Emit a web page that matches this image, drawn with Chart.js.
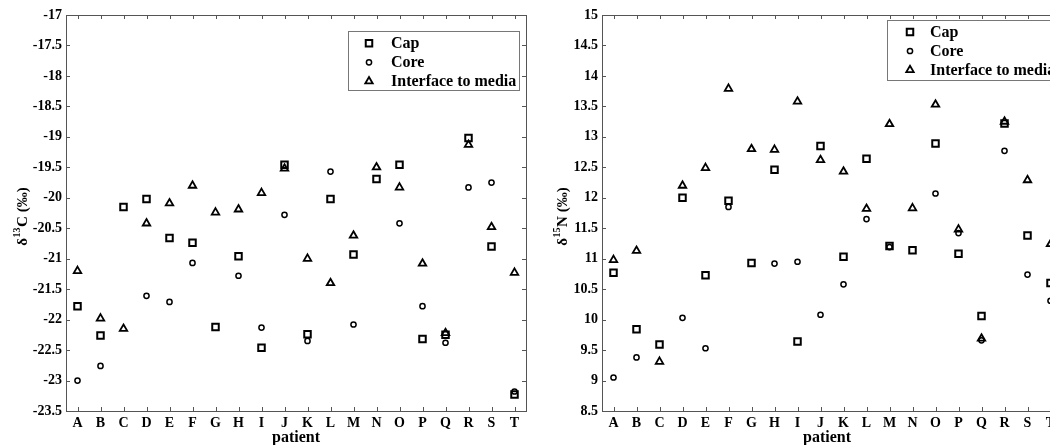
<!DOCTYPE html>
<html><head><meta charset="utf-8">
<script src="https://cdn.jsdelivr.net/npm/chart.js@4"></script>
<style>
html,body{margin:0;padding:0;background:#fff;overflow:hidden;width:1050px;height:445px;}
#w{position:relative;width:1050px;height:445px;overflow:hidden;background:#fff;}
.c{position:absolute;top:0;}
</style></head><body>
<div id="w">
<div class="c" style="left:0;width:540px;height:445px"><canvas id="c1" width="540" height="445"></canvas></div>
<div class="c" style="left:540px;width:540px;height:445px"><canvas id="c2" width="540" height="445"></canvas></div>
</div>
<script>
const patients = ['A','B','C','D','E','F','G','H','I','J','K','L','M','N','O','P','Q','R','S','T'];

// delta 13C (left panel)
const capC   = [-21.78,-22.26,-20.15,-20.02,-20.66,-20.74,-22.12,-20.96,-22.46,-19.46,-22.24,-20.02,-20.93,-19.69,-19.46,-22.32,-22.25,-19.02,-20.80,-23.23];
const coreC  = [-23.00,-22.76,null,-21.61,-21.71,-21.07,null,-21.28,-22.13,-20.28,-22.35,-19.57,-22.08,null,-20.42,-21.78,-22.38,-19.83,-19.75,-23.18];
const ifaceC = [-21.20,-21.98,-22.15,-20.42,-20.09,-19.80,-20.24,-20.19,-19.92,-19.52,-21.00,-21.40,-20.62,-19.50,-19.83,-21.08,-22.22,-19.13,-20.48,-21.23];

// delta 15N (right panel)
const capN   = [10.77,9.84,9.59,12.00,10.73,11.95,10.93,12.46,9.64,12.85,11.03,12.64,11.21,11.14,12.89,11.08,10.06,13.22,11.38,10.60];
const coreN  = [9.05,9.38,null,10.03,9.53,11.85,null,10.92,10.95,10.08,10.58,11.65,11.19,null,12.07,11.42,9.66,12.77,10.74,10.31];
const ifaceN = [10.98,11.13,9.31,12.20,12.49,13.79,12.80,12.79,13.58,12.62,12.43,11.82,13.21,11.83,13.53,11.48,9.69,13.25,12.29,11.24];

const ticksC = [-23.5,-23,-22.5,-22,-21.5,-21,-20.5,-20,-19.5,-19,-18.5,-18,-17.5,-17];
const ticksN = [8.5,9,9.5,10,10.5,11,11.5,12,12.5,13,13.5,14,14.5,15];

const seriesNames = ['Cap','Core','Interface to media'];
const xTitle = 'patient';

const FF = '"Liberation Serif","Times New Roman",serif';
const STYLES = [
  {pointStyle:'rect', radius:4.6, borderWidth:2},
  {pointStyle:'circle', radius:2.6, borderWidth:1.5},
  {pointStyle:'triangle', radius:4.3, borderWidth:1.8}
];

function marker(ctx, st, x, y){
  ctx.save();
  ctx.strokeStyle = '#000';
  ctx.lineWidth = st.borderWidth;
  ctx.beginPath();
  const r = st.radius;
  if (st.pointStyle === 'rect'){
    const s = Math.SQRT1_2 * r;
    ctx.rect(x - s, y - s, 2*s, 2*s);
  } else if (st.pointStyle === 'circle'){
    ctx.arc(x, y, r, 0, Math.PI*2);
  } else {
    const a = -Math.PI/2;
    ctx.moveTo(x + Math.cos(a)*r, y + Math.sin(a)*r);
    ctx.lineTo(x + Math.cos(a+2*Math.PI/3)*r, y + Math.sin(a+2*Math.PI/3)*r);
    ctx.lineTo(x + Math.cos(a+4*Math.PI/3)*r, y + Math.sin(a+4*Math.PI/3)*r);
    ctx.closePath();
  }
  ctx.stroke();
  ctx.restore();
}

const decor = {
  id: 'decor',
  beforeDatasetsDraw(chart, args, o){
    const ctx = chart.ctx, a = chart.chartArea;
    const xs = chart.scales.x, ys = chart.scales.y;
    ctx.save();
    ctx.strokeStyle = '#555';
    ctx.lineWidth = 1;
    ctx.strokeRect(Math.round(a.left)+0.5, Math.round(a.top)+0.5, Math.round(a.right-a.left), Math.round(a.bottom-a.top));
    ctx.beginPath();
    const tl = 4;
    xs.ticks.forEach((t,i) => {
      const px = Math.round(xs.getPixelForTick(i)) + 0.5;
      ctx.moveTo(px, a.bottom); ctx.lineTo(px, a.bottom - tl);
      ctx.moveTo(px, a.top); ctx.lineTo(px, a.top + tl);
    });
    ys.ticks.forEach(t => {
      const py = Math.round(ys.getPixelForValue(t.value)) + 0.5;
      ctx.moveTo(a.left, py); ctx.lineTo(a.left + tl, py);
      ctx.moveTo(a.right, py); ctx.lineTo(a.right - tl, py);
    });
    ctx.stroke();
    ctx.restore();
  },
  afterDraw(chart, args, o){
    const ctx = chart.ctx, a = chart.chartArea;
    // y title with superscript
    ctx.save();
    ctx.fillStyle = '#000';
    const big = 'bold 15px ' + FF, small = 'bold 10px ' + FF;
    ctx.font = big; const w1 = ctx.measureText(o.yt[0]).width;
    ctx.font = small; const w2 = ctx.measureText(o.yt[1]).width;
    ctx.font = big; const w3 = ctx.measureText(o.yt[2]).width;
    const tot = w1 + w2 + w3;
    ctx.translate(o.ytX, o.ytY + tot/2);
    ctx.rotate(-Math.PI/2);
    ctx.textAlign = 'left'; ctx.textBaseline = 'alphabetic';
    ctx.font = big; ctx.fillText(o.yt[0], 0, 0);
    ctx.font = small; ctx.fillText(o.yt[1], w1 + 0.5, -7);
    ctx.font = big; ctx.fillText(o.yt[2], w1 + w2 + 1, 0);
    ctx.restore();
    // x title
    ctx.save();
    ctx.fillStyle = '#000';
    ctx.font = 'bold 16px ' + FF;
    ctx.textAlign = 'center'; ctx.textBaseline = 'middle';
    ctx.fillText(xTitle, (a.left + a.right)/2 + o.xtDx, o.xtY);
    ctx.restore();
    // legend
    const L = o.lg;
    ctx.save();
    ctx.fillStyle = '#fff';
    ctx.fillRect(L.x, L.y, L.w, L.h);
    ctx.strokeStyle = '#777'; ctx.lineWidth = 1;
    ctx.strokeRect(L.x + 0.5, L.y + 0.5, L.w, L.h);
    ctx.fillStyle = '#000';
    ctx.font = L.font;
    ctx.textAlign = 'left'; ctx.textBaseline = 'middle';
    seriesNames.forEach((n, i) => {
      const yy = L.row0 + i * L.dy;
      marker(ctx, STYLES[i], L.mx, yy);
      ctx.fillText(n, L.tx, yy + 1);
    });
    ctx.restore();
  }
};

function makeChart(id, series, ticks, o, yw, padR){
  const ds = series.map((d, i) => ({
    label: seriesNames[i],
    data: d,
    showLine: false,
    pointStyle: STYLES[i].pointStyle,
    pointRadius: STYLES[i].radius,
    pointHoverRadius: STYLES[i].radius,
    pointBorderWidth: STYLES[i].borderWidth,
    pointBorderColor: '#000',
    pointBackgroundColor: 'rgba(0,0,0,0)',
    borderColor: '#000',
    backgroundColor: 'rgba(0,0,0,0)'
  }));
  return new Chart(document.getElementById(id), {
    type: 'line',
    data: { labels: patients, datasets: ds },
    options: {
      responsive: false, animation: false, devicePixelRatio: 1,
      layout: { autoPadding: false, padding: { left: 0, right: padR, top: 15, bottom: 0 } },
      plugins: { legend: { display: false }, tooltip: { enabled: false }, decor: o },
      scales: {
        x: {
          type: 'category', offset: true,
          grid: { display: false, drawTicks: false, tickLength: 0 },
          border: { display: false },
          ticks: { color: '#000', font: { family: FF, size: 14, weight: 'bold' }, padding: 4, maxRotation: 0, autoSkip: false },
          afterFit(s){ s.height = 34; }
        },
        y: {
          type: 'linear', min: ticks[0], max: ticks[ticks.length-1],
          grid: { display: false, drawTicks: false, tickLength: 0 },
          border: { display: false },
          afterBuildTicks(s){ s.ticks = ticks.map(v => ({ value: v })); },
          ticks: { color: '#000', font: { family: FF, size: 14, weight: 'bold' }, padding: 4, callback: v => String(v) },
          afterFit(s){ s.width = yw; }
        }
      }
    },
    plugins: [decor]
  });
}

makeChart('c1', [capC, coreC, ifaceC], ticksC, {
  yt: ['δ', '13', 'C (‰)'], ytX: 27, ytY: 217, xtDx: 0, xtY: 438,
  lg: { x: 348, y: 31, w: 171, h: 59, mx: 369, tx: 391, row0: 43.3, dy: 19, font: 'bold 16px ' + FF }
}, 66, 14);

makeChart('c2', [capN, coreN, ifaceN], ticksN, {
  yt: ['δ', '15', 'N (‰)'], ytX: 27, ytY: 217, xtDx: -5, xtY: 438,
  lg: { x: 347, y: 20, w: 176, h: 60, mx: 370, tx: 390, row0: 32, dy: 19, font: 'bold 16px ' + FF }
}, 62, 18);
</script>
</body></html>
